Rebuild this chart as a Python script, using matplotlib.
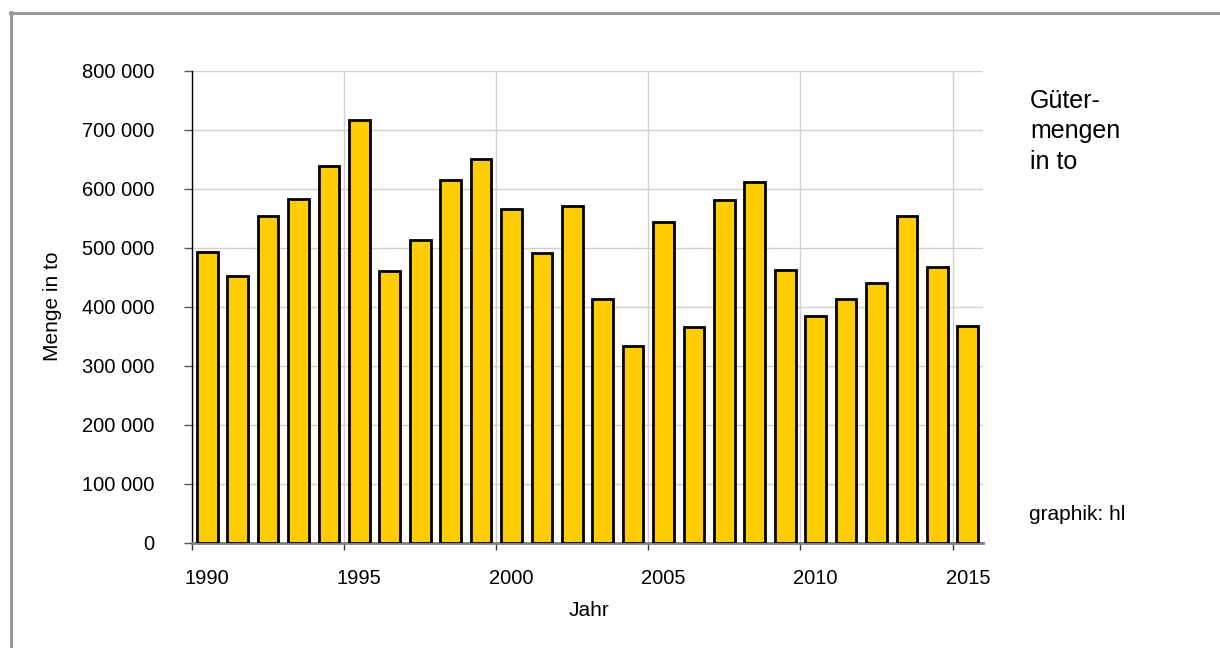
import numpy as np
import matplotlib.pyplot as plt
from matplotlib.lines import Line2D
from matplotlib.ticker import FuncFormatter

# Gütermengen pro Jahr (in Tonnen)
jahre = list(range(1990, 2016))
mengen = [493000, 452000, 554000, 582000, 638000, 717000, 461000, 514000,
          615000, 651000, 566000, 491000, 571000, 414000, 334000, 544000,
          366000, 581000, 611000, 463000, 385000, 414000, 440000, 554000,
          467000, 367000]
label_jahre = [1990, 1995, 2000, 2005, 2010, 2015]

plt.rcParams['font.family'] = ['Liberation Sans', 'DejaVu Sans']

fig = plt.figure(figsize=(12.2, 6.48), dpi=100)
ax = fig.add_axes([192 / 1220, 105 / 648, 791 / 1220, (543 - 70.7) / 648])

x = np.array(jahre) + 0.5
ax.bar(x, mengen, width=0.68, color='#FFCC00', edgecolor='black',
       linewidth=2.0, zorder=3)

ax.set_xlim(1990, 2016)
ax.set_ylim(0, 800000)
ax.set_yticks(np.arange(0, 800001, 100000))
ax.yaxis.set_major_formatter(FuncFormatter(lambda v, p: f"{int(v):,}".replace(',', ' ')))

# Striche an den Jahresgrenzen, Beschriftung mittig unter dem Balken
ax.set_xticks(label_jahre)
ax.set_xticklabels([])
ax.set_xticks([j + 0.5 for j in label_jahre], minor=True)
ax.set_xticklabels([str(j) for j in label_jahre], minor=True)
ax.tick_params(axis='x', which='major', direction='out', length=5, width=1, color='#333333')
ax.tick_params(axis='x', which='minor', length=0, pad=19, labelsize=14.5)
ax.tick_params(axis='y', direction='out', length=6, width=1, color='#555555',
               pad=21, labelsize=14.5)

ax.grid(True, which='major', color='#d0d0d0', linewidth=1.0, zorder=0)
ax.set_axisbelow(True)
for s in ['top', 'right']:
    ax.spines[s].set_visible(False)
ax.spines['left'].set_color('black')
ax.spines['left'].set_linewidth(1.0)
ax.spines['bottom'].set_color('#808080')
ax.spines['bottom'].set_linewidth(2.0)

fig.text(53 / 1220, 1 - 306 / 648, 'Menge in to', rotation=90,
         ha='center', va='center', fontsize=15)
fig.text(589 / 1220, 1 - 611 / 648, 'Jahr', ha='center', va='center', fontsize=15)

fig.text(1030 / 1220, 1 - 89 / 648, 'Güter-\nmengen\nin to', ha='left', va='top',
         fontsize=18, linespacing=1.33)
fig.text(1029 / 1220, 1 - 514 / 648, 'graphik: hl', ha='left', va='center', fontsize=15)

# grauer Rahmen oben und links
fig.add_artist(Line2D([10 / 1220, 1.0], [1 - 13 / 648, 1 - 13 / 648],
                      transform=fig.transFigure, color='#9a9a9a', linewidth=2.2))
fig.add_artist(Line2D([10.5 / 1220, 10.5 / 1220], [0, 1 - 12 / 648],
                      transform=fig.transFigure, color='#9a9a9a', linewidth=2.2))

fig.savefig('out.png', dpi=100)
